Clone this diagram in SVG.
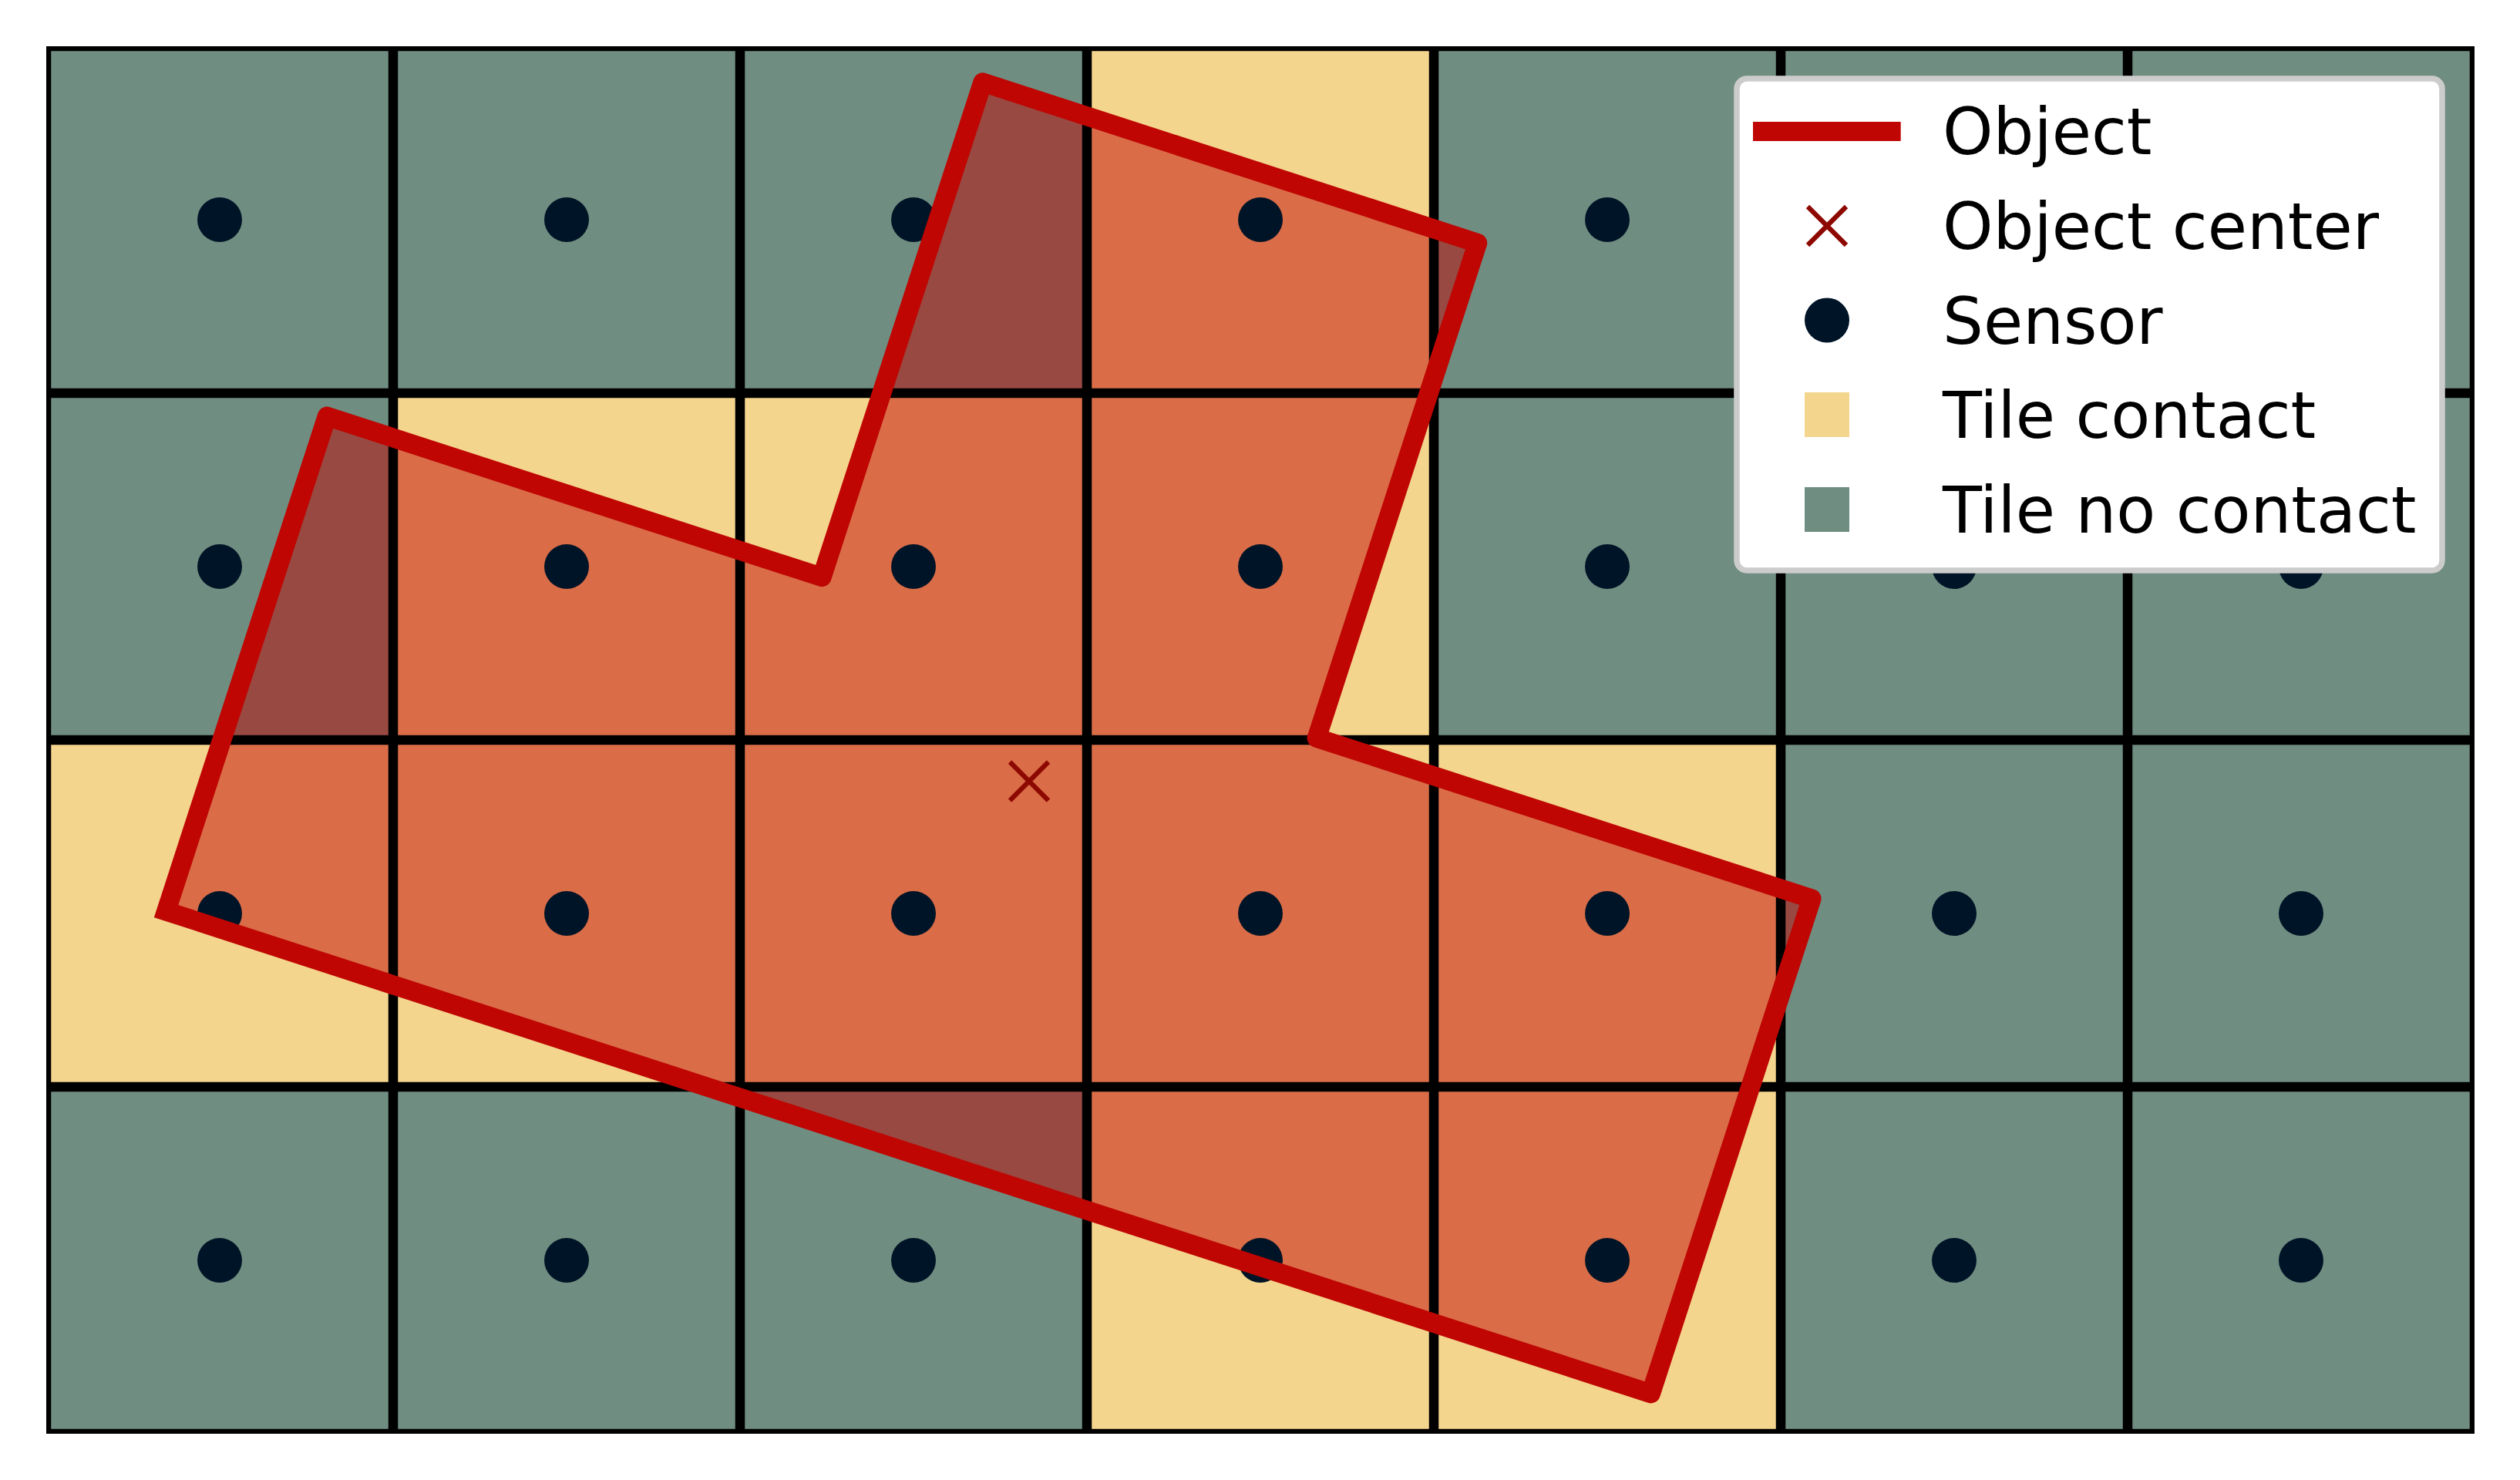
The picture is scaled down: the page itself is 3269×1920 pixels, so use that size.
<svg xmlns="http://www.w3.org/2000/svg" width="3269" height="1920" viewBox="0 0 3269 1920">
<style>
.tg{fill:#708d81}
.ty{fill:#f4d58d}
.grid{stroke:#000;stroke-width:12.5;fill:none}
.sensor{fill:#001427}
.obj{fill:none;stroke:#bf0603;stroke-width:25;stroke-linejoin:round;stroke-linecap:square}
.objfill{fill:#bf0603;fill-opacity:0.5;stroke:none}
.ctr{stroke:#8d0801;stroke-width:6.25;fill:none}
.lt{font-family:"DejaVu Sans","Liberation Sans",sans-serif;font-size:83.33px;fill:#000}
</style>
<defs>
<clipPath id="plot"><rect x="60" y="60" width="3150" height="1800"/></clipPath>
<g id="sdot"><circle r="29" class="sensor"/></g>
</defs>
<rect width="3269" height="1920" fill="#fff"/>
<g id="tiles">
<rect class="tg" x="60" y="60" width="450" height="450"/>
<rect class="tg" x="510" y="60" width="450" height="450"/>
<rect class="tg" x="960" y="60" width="450" height="450"/>
<rect class="ty" x="1410" y="60" width="450" height="450"/>
<rect class="tg" x="1860" y="60" width="450" height="450"/>
<rect class="tg" x="2310" y="60" width="450" height="450"/>
<rect class="tg" x="2760" y="60" width="450" height="450"/>
<rect class="tg" x="60" y="510" width="450" height="450"/>
<rect class="ty" x="510" y="510" width="450" height="450"/>
<rect class="ty" x="960" y="510" width="450" height="450"/>
<rect class="ty" x="1410" y="510" width="450" height="450"/>
<rect class="tg" x="1860" y="510" width="450" height="450"/>
<rect class="tg" x="2310" y="510" width="450" height="450"/>
<rect class="tg" x="2760" y="510" width="450" height="450"/>
<rect class="ty" x="60" y="960" width="450" height="450"/>
<rect class="ty" x="510" y="960" width="450" height="450"/>
<rect class="ty" x="960" y="960" width="450" height="450"/>
<rect class="ty" x="1410" y="960" width="450" height="450"/>
<rect class="ty" x="1860" y="960" width="450" height="450"/>
<rect class="tg" x="2310" y="960" width="450" height="450"/>
<rect class="tg" x="2760" y="960" width="450" height="450"/>
<rect class="tg" x="60" y="1410" width="450" height="450"/>
<rect class="tg" x="510" y="1410" width="450" height="450"/>
<rect class="tg" x="960" y="1410" width="450" height="450"/>
<rect class="ty" x="1410" y="1410" width="450" height="450"/>
<rect class="ty" x="1860" y="1410" width="450" height="450"/>
<rect class="tg" x="2310" y="1410" width="450" height="450"/>
<rect class="tg" x="2760" y="1410" width="450" height="450"/>
</g>
<g id="object-fill">
<polygon class="objfill" points="215.6,1182.1 2141.5,1807.9 2350.1,1165.9 1708.1,957.3 1916.7,315.3 1274.8,106.8 1066.2,748.7 424.2,540.1"/>
</g>
<g id="connectors" clip-path="url(#plot)">
<rect class="grid" x="60" y="60" width="3150" height="1800"/>
<path class="grid" d="M510,60V1860M960,60V1860M1410,60V1860M1860,60V1860M2310,60V1860M2760,60V1860M60,510H3210M60,960H3210M60,1410H3210"/>
</g>
<g id="sensors">
<use href="#sdot" x="285" y="285"/><use href="#sdot" x="735" y="285"/><use href="#sdot" x="1185" y="285"/><use href="#sdot" x="1635" y="285"/><use href="#sdot" x="2085" y="285"/><use href="#sdot" x="2535" y="285"/><use href="#sdot" x="2985" y="285"/>
<use href="#sdot" x="285" y="735"/><use href="#sdot" x="735" y="735"/><use href="#sdot" x="1185" y="735"/><use href="#sdot" x="1635" y="735"/><use href="#sdot" x="2085" y="735"/><use href="#sdot" x="2535" y="735"/><use href="#sdot" x="2985" y="735"/>
<use href="#sdot" x="285" y="1185"/><use href="#sdot" x="735" y="1185"/><use href="#sdot" x="1185" y="1185"/><use href="#sdot" x="1635" y="1185"/><use href="#sdot" x="2085" y="1185"/><use href="#sdot" x="2535" y="1185"/><use href="#sdot" x="2985" y="1185"/>
<use href="#sdot" x="285" y="1635"/><use href="#sdot" x="735" y="1635"/><use href="#sdot" x="1185" y="1635"/><use href="#sdot" x="1635" y="1635"/><use href="#sdot" x="2085" y="1635"/><use href="#sdot" x="2535" y="1635"/><use href="#sdot" x="2985" y="1635"/>
</g>
<g id="object">
<polyline class="obj" points="215.6,1182.1 2141.5,1807.9 2350.1,1165.9 1708.1,957.3 1916.7,315.3 1274.8,106.8 1066.2,748.7 424.2,540.1 215.6,1182.1"/>
</g>
<g id="object-center">
<path class="ctr" d="M1310,988.5L1360,1038.5M1310,1038.5L1360,988.5"/>
</g>
<g id="legend">
<rect x="2253" y="102" width="915" height="638" rx="13" ry="13" fill="#fff" stroke="#cccccc" stroke-width="7.5"/>
<line x1="2286.5" y1="170.5" x2="2453.2" y2="170.5" class="obj"/>
<text class="lt" x="2520" y="200">Object</text>
<path class="ctr" d="M2345,268L2395,318M2345,318L2395,268"/>
<text class="lt" x="2520" y="323">Object center</text>
<circle cx="2370" cy="415.4" r="29" class="sensor"/>
<text class="lt" x="2520" y="445.5">Sensor</text>
<rect class="ty" x="2341" y="509" width="58" height="58"/>
<text class="lt" x="2520" y="568">Tile contact</text>
<rect class="tg" x="2341" y="632" width="58" height="58"/>
<text class="lt" x="2520" y="691">Tile no contact</text>
</g>
</svg>
